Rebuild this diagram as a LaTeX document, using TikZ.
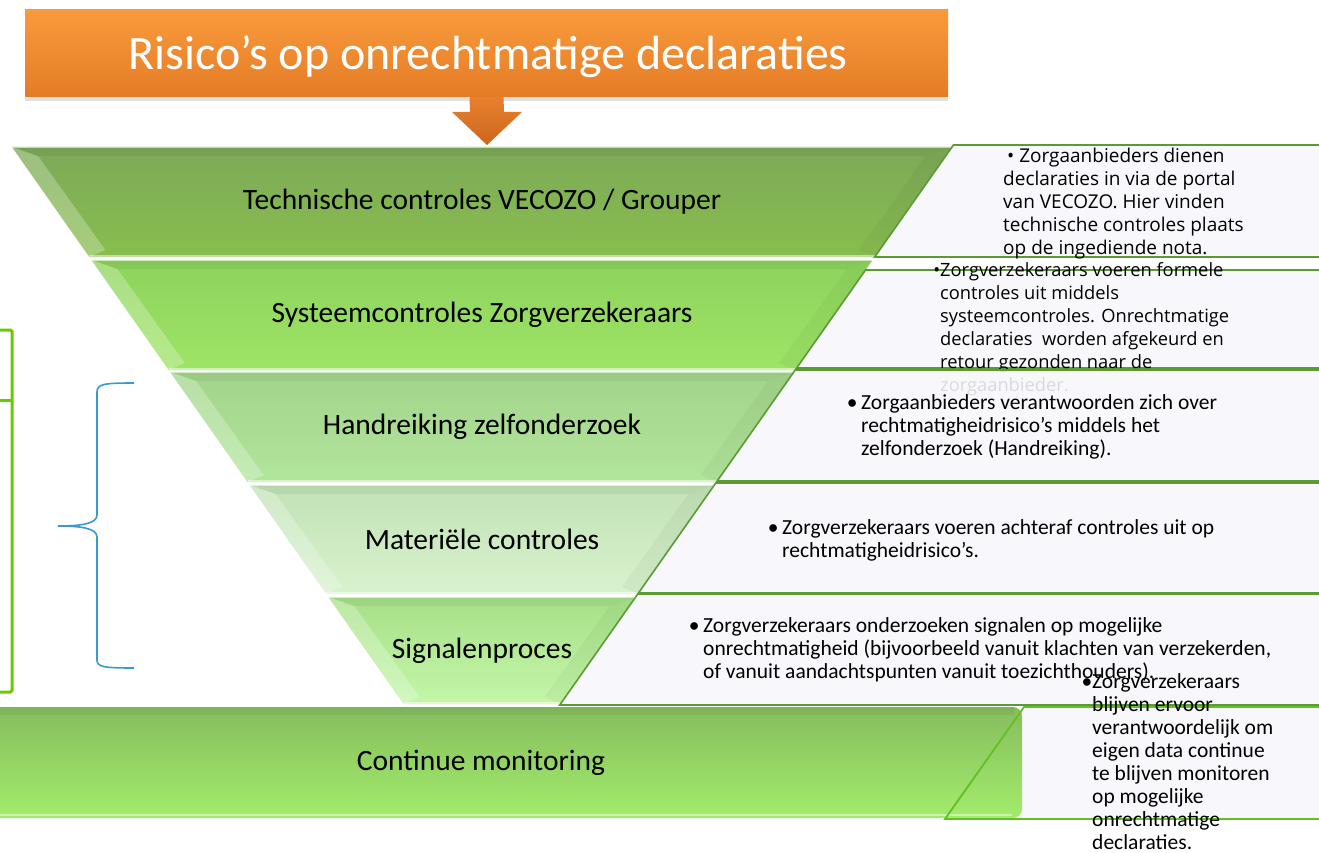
\documentclass[tikz,border=0pt]{standalone}
\usepackage{fontspec}
\setmainfont{Carlito}
\newfontfamily\osans{Open Sans}
\usetikzlibrary{shadows,calc}
\definecolor{titletop}{HTML}{F99A3C}
\definecolor{titlebot}{HTML}{E47C26}
\definecolor{arrtop}{HTML}{E8812E}
\definecolor{arrbot}{HTML}{CC661C}
\definecolor{bAt}{HTML}{7DA958}
\definecolor{bAb}{HTML}{88BE4E}
\definecolor{bBt}{HTML}{8ED35C}
\definecolor{bBb}{HTML}{9EE466}
\definecolor{bCt}{HTML}{A2D48A}
\definecolor{bCb}{HTML}{B2E69C}
\definecolor{bDt}{HTML}{C2E2B6}
\definecolor{bDb}{HTML}{D8F2CE}
\definecolor{bEt}{HTML}{A6E088}
\definecolor{bEb}{HTML}{C4F6A8}
\definecolor{cmtop}{HTML}{86BD5E}
\definecolor{cmbot}{HTML}{A2EC6C}
\definecolor{boxfill}{HTML}{F8F8FC}
\definecolor{boxline}{HTML}{5C9A34}
\definecolor{lightline}{HTML}{62C020}
\definecolor{brackgreen}{HTML}{66CC00}
\definecolor{braceblue}{HTML}{3A9AD0}
\tikzset{
  titlebox/.style={top color=titletop, bottom color=titlebot, minimum width=923, minimum height=87,
    inner sep=0,
    drop shadow={shadow xshift=0pt, shadow yshift=-4pt, opacity=0.2, fill=black!60}},
  titletext/.style={text=white, inner sep=0, font=\fontsize{48}{54}\selectfont},
  bandlabel/.style={font=\fontsize{29.5}{34}\selectfont, text=black, inner sep=0},
  rtextA/.style={anchor=north west, align=left, inner sep=0, font=\osans\fontsize{18.3}{23}\selectfont},
  rtextB/.style={anchor=north west, align=left, inner sep=0, font=\fontsize{21.5}{23}\selectfont},
  rline/.style={draw=boxline, line width=1.6},
}
\newcommand\fband[6]{%
  \pgfmathsetmacro\wa{470-0.703*(#2-147)}%
  \pgfmathsetmacro\wb{470-0.703*(#3-147)}%
  \shade[top color=#4,bottom color=#5] (482-\wa,#2) -- (482+\wa,#2) -- (482+\wb,#3) -- (482-\wb,#3) -- cycle;
  \fill[white,opacity=0.25] (482-\wa,#2) -- (482-\wa+26,#2+9) -- (482-\wb+16,#3-7) -- (482-\wb,#3) -- cycle;
  \fill[black,opacity=0.035] (482+\wa,#2) -- (482+\wa-26,#2+9) -- (482+\wb-16,#3-7) -- (482+\wb,#3) -- cycle;
  \fill[black,opacity=0.05] (482-\wa,#2) -- (482+\wa,#2) -- (482+\wa-26,#2+9) -- (482-\wa+26,#2+9) -- cycle;
  \draw[white,opacity=0.6,line width=1.2] (482-\wa,#2+0.6) -- (482+\wa,#2+0.6);
  \draw[white,opacity=0.5,line width=2] (482-\wb,#3-1) -- (482+\wb,#3-1);
  \node[bandlabel] (#1) at (482,{(#2+#3)/2}) {#6};
}
\newcommand\rbox[3]{%
  \pgfmathsetmacro\xa{952-0.703*(#1-147)}%
  \pgfmathsetmacro\xb{952-0.703*(#2-147)}%
  \fill[boxfill,#3] (\xa,#1) -- (1330,#1) -- (1330,#2) -- (\xb,#2) -- cycle;
  \draw[rline] (1330,#1) -- (\xa,#1) -- (\xb,#2) -- (1330,#2);
}
\begin{document}
\begin{tikzpicture}[x=1pt,y=-1pt]
\useasboundingbox (0,0) rectangle (1319,853);
\fill[white] (0,0) rectangle (1319,853);

% title and arrow
\node[titlebox] (title) at (486.5,53.5) {};
\node[titletext] (titlet) at (488,57) {Risico’s op onrechtmatige declaraties};
\coordinate (arrtip) at (487,145);
\shade[top color=arrtop,bottom color=arrbot] ($(title.south)+(-17,0)$) -- ($(title.south)+(17,0)$) -- (504,112) -- (522,112) -- (arrtip) -- (452,112) -- (470,112) -- cycle;

% funnel
\fband{b1}{147}{257}{bAt}{bAb}{Technische controles VECOZO / Grouper}
\fband{b2}{260}{370}{bBt}{bBb}{Systeemcontroles Zorgverzekeraars}
\fband{b3}{372}{482}{bCt}{bCb}{Handreiking zelfonderzoek}
\fband{b4}{485}{594}{bDt}{bDb}{Materiële controles}
\fband{b5}{597}{704}{bEt}{bEb}{Signalenproces}

% right boxes
\rbox{145}{257}{}
\node[rtextA,font=\osans\fontsize{19}{23}\selectfont] (t1) at (1003,148) {\hspace*{4pt}\textbullet\ Zorgaanbieders dienen\\declaraties in via de portal\\van VECOZO. Hier vinden\\technische controles plaats\\op de ingediende nota.};
\rbox{270}{368}{}
\node[rtextA] (t2) at (940,262) {\llap{\textbullet}Zorgverzekeraars voeren formele\\controles uit middels\\systeemcontroles. Onrechtmatige\\declaraties\ \ worden afgekeurd en\\retour gezonden naar de\\zorgaanbieder.};
\rbox{370}{481}{opacity=0.88}
\node[rtextB] (t3) at (861,394) {\llap{\textbullet\,}Zorgaanbieders verantwoorden zich over\\rechtmatigheidrisico’s middels het\\zelfonderzoek (Handreiking).};
\rbox{483}{593}{}
\node[rtextB] (t4) at (782,519) {\llap{\textbullet\,}Zorgverzekeraars voeren achteraf controles uit op\\rechtmatigheidrisico’s.};
\rbox{594}{705}{}
\node[rtextB] (t5) at (703,617) {\llap{\textbullet\,}Zorgverzekeraars onderzoeken signalen op mogelijke\\onrechtmatigheid (bijvoorbeeld vanuit klachten van verzekerden,\\of vanuit aandachtspunten vanuit toezichthouders).};

% continue monitoring
\fill[boxfill] (1024,707) -- (1330,707) -- (1330,819) -- (945,819) -- cycle;
\shade[top color=cmtop,bottom color=cmbot,rounded corners=9] (-12,707) rectangle (1022,818);
\fill[black,opacity=0.05] (-12,707) rectangle (1014,715);
\draw[white,opacity=0.45,line width=2] (0,815) -- (1012,815);
\node[bandlabel] (cm) at (481,763) {Continue monitoring};
\draw[draw=lightline,line width=1.8] (1330,707) -- (1024,707) -- (945,819) -- (1330,819);
\node[rtextB] (t6) at (1092,673) {\llap{\textbullet}Zorgverzekeraars\\blijven ervoor\\verantwoordelijk om\\eigen data continue\\te blijven monitoren\\op mogelijke\\onrechtmatige\\declaraties.};

% left bracket
\draw[brackgreen,line width=3,rounded corners=1.5] (-2,330) -- (12,330) -- (12,692) -- (-2,692);
\draw[brackgreen,line width=3] (-2,400) -- (12,400);

% blue brace
\coordinate (brtop) at (134,383);
\coordinate (brbot) at (134,668);
\coordinate (brmid) at (58,526);
\draw[braceblue,line width=1.6] (brtop) .. controls (104,383) and (97,384) .. (97,392) -- (97,515) .. controls (97,524) and (80,526) .. (brmid) .. controls (80,526) and (97,528) .. (97,537) -- (97,660) .. controls (97,667) and (104,668) .. (brbot);
\end{tikzpicture}
\end{document}
